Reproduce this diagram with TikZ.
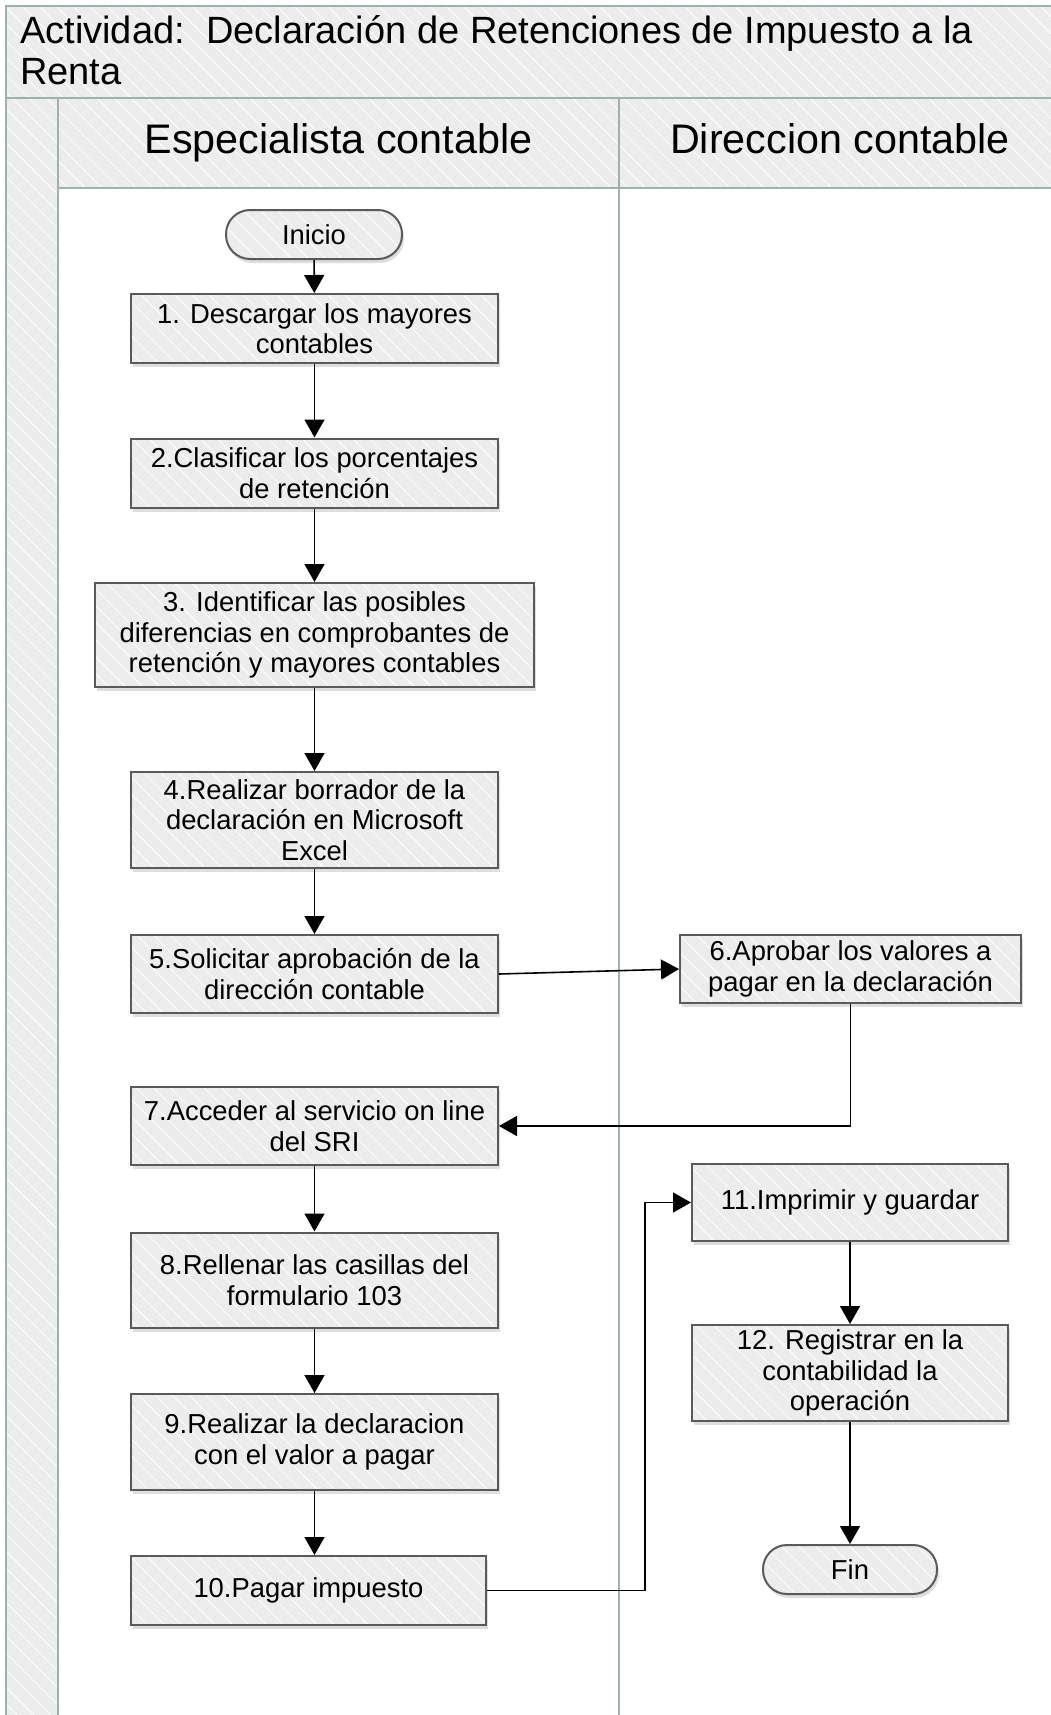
\documentclass[tikz,border=0pt]{standalone}
\usepackage{fontspec}
\setmainfont{Liberation Sans}
\usetikzlibrary{arrows.meta, patterns.meta, shadows}

\definecolor{poolline}{HTML}{9DB2AA}
\definecolor{hatchbg}{HTML}{ECECEC}
\definecolor{boxline}{HTML}{5A5A5A}

\begin{document}
\begin{tikzpicture}[x=1pt, y=-1pt,
  hatch/.style={preaction={fill=hatchbg}, pattern={Lines[angle=-45, distance=12pt, line width=0.8pt]}, pattern color=white},
  lane/.style={draw=poolline, line width=2pt},
  proc/.style={rectangle, drop shadow={shadow xshift=2pt, shadow yshift=-4pt, fill=black!25}, draw=boxline, line width=2pt, hatch, align=center, font=\fontsize{27.4}{30.5}\selectfont, inner sep=2pt},
  term/.style={proc, rounded corners=24pt},
  arr/.style={-{Triangle[length=18pt, width=20pt]}, line width=1.6pt}]
\useasboundingbox (0,0) rectangle (1051,1715);

% pool and lanes
\draw[lane, hatch] (6,6) rectangle (1062,98);
\draw[lane, hatch] (6,98) rectangle (58,1730);
\draw[lane, hatch] (58,98) rectangle (619,188);
\draw[lane, hatch] (619,98) rectangle (1062,188);
\draw[lane, fill=white] (58,188) rectangle (619,1730);
\draw[lane, fill=white] (619,188) rectangle (1062,1730);

\node[anchor=west, align=left, inner sep=0pt, font=\fontsize{38}{41.5}\selectfont] (titulo) at (20,50)
  {Actividad:\ \ Declaración de Retenciones de Impuesto a la\\Renta};
\node[anchor=base, font=\fontsize{41.3}{48}\selectfont] (esp) at (338.5,154) {Especialista contable};
\node[anchor=base, font=\fontsize{41.3}{48}\selectfont] (dir) at (840,154) {Direccion contable};

% especialista contable
\node[term, minimum width=176pt, minimum height=49pt] (inicio) at (314,234.5) {Inicio};
\node[proc, minimum width=367pt, minimum height=69pt] (a1) at (314.5,328.5) {1. Descargar los mayores\\contables};
\node[proc, minimum width=367pt, minimum height=69pt] (a2) at (314.5,473) {2.Clasificar los porcentajes\\de retención};
\node[proc, minimum width=439pt, minimum height=104pt] (a3) at (314.5,635) {3. Identificar las posibles\\diferencias en comprobantes de\\retención y mayores contables};
\node[proc, minimum width=367pt, minimum height=96pt] (a4) at (314.5,820) {4.Realizar borrador de la\\declaración en Microsoft\\Excel};
\node[proc, minimum width=367pt, minimum height=78pt] (a5) at (314.5,974) {5.Solicitar aprobación de la\\dirección contable};
\node[proc, minimum width=367pt, minimum height=78pt] (a7) at (314.5,1126) {7.Acceder al servicio on line\\del SRI};
\node[proc, minimum width=367pt, minimum height=95pt] (a8) at (314.5,1280) {8.Rellenar las casillas del\\formulario 103};
\node[proc, minimum width=367pt, minimum height=96pt] (a9) at (314.5,1442) {9.Realizar la declaracion\\con el valor a pagar};
\node[proc, minimum width=355pt, minimum height=69pt] (a10) at (308.5,1590.5) {10.Pagar impuesto};

% direccion contable
\node[proc, minimum width=341pt, minimum height=68pt] (a6) at (850.5,969) {6.Aprobar los valores a\\pagar en la declaración};
\node[proc, minimum width=316pt, minimum height=77pt] (a11) at (850,1202.5) {11.Imprimir y guardar};
\node[proc, minimum width=316pt, minimum height=96pt] (a12) at (850,1373) {12. Registrar en la\\contabilidad la\\operación};
\node[term, minimum width=174pt, minimum height=49pt] (fin) at (850,1569.5) {Fin};

\draw[arr] (inicio) -- (a1);
\draw[arr] (a1) -- (a2);
\draw[arr] (a2) -- (a3);
\draw[arr] (a3) -- (a4);
\draw[arr] (a4) -- (a5);
\draw[arr] (a5.east) -- (a6.west);
\draw[arr] (a6.south) |- (a7.east);
\draw[arr] (a7) -- (a8);
\draw[arr] (a8) -- (a9);
\draw[arr] (a9) -- (a9 |- a10.north);
\draw[arr] (a10.east) -- ++(158,0) |- (a11.west);
\draw[arr] (a11) -- (a12);
\draw[arr] (a12) -- (fin);
\end{tikzpicture}
\end{document}
